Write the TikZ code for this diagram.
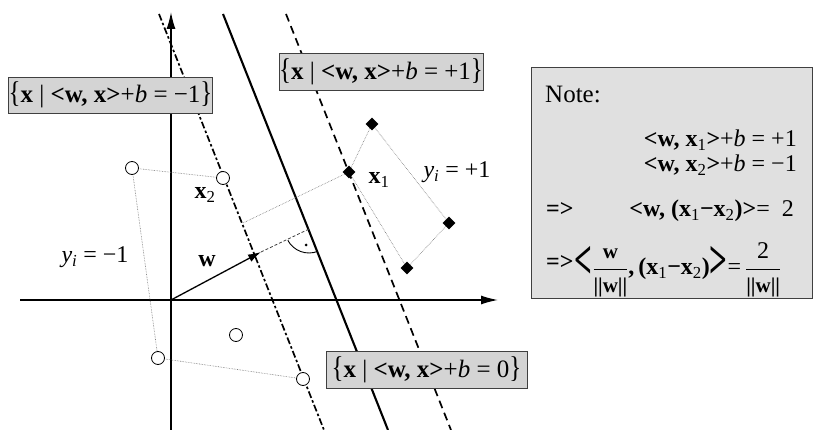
\documentclass[tikz,border=0pt]{standalone}
\usepackage{fontspec}
\usepackage{graphicx}
\setmainfont{Liberation Serif}
\usetikzlibrary{arrows.meta,shapes.geometric}
\newcommand{\bx}{\textbf{x}}
\newcommand{\bw}{\textbf{w}}
\newcommand{\ib}{\textit{b}}
\newcommand{\tb}[1]{\scalebox{1}[1.2]{#1}}
\newcommand{\bigang}[1]{\raisebox{-4pt}{\scalebox{1.3}[2.3]{\textbf{#1}}}}
\begin{document}
\begin{tikzpicture}[x=1pt,y=-1pt,
  axis/.style={line width=1.4pt, -{Latex[length=17pt,width=9pt]}},
  plane/.style={line width=2.1pt},
  marginl/.style={line width=1.7pt, dash pattern=on 7pt off 2.5pt on 2.5pt off 2.5pt},
  marginr/.style={line width=1.7pt, dash pattern=on 8pt off 5pt},
  hull/.style={black!55, line width=0.6pt, densely dotted},
  opt/.style={circle, draw, line width=0.8pt, fill=white, minimum size=13pt, inner sep=0pt},
  dpt/.style={diamond, fill=black, minimum size=13pt, inner sep=0pt},
  lbl/.style={draw=black!75, line width=0.8pt, fill=black!17, inner sep=0pt, font=\fontsize{25}{27}\selectfont},
  notebox/.style={draw=black!75, line width=0.8pt, fill=black!12, inner sep=0pt},
  txt/.style={inner sep=0pt, font=\fontsize{24}{26}\selectfont},
  ntxt/.style={inner sep=0pt, font=\fontsize{24}{26}\selectfont},
  ]
\useasboundingbox (0,0) rectangle (814,430);
\fill[white] (0,0) rectangle (814,430);
% hyperplanes
\coordinate (Lt) at (159,14);  \coordinate (Lb) at (324,430);
\coordinate (St) at (223,14);  \coordinate (Sb) at (388,430);
\coordinate (Rt) at (286,14);  \coordinate (Rb) at (451,430);
\draw[marginl] (Lt) -- (Lb);
\draw[plane] (St) -- (Sb);
\draw[marginr] (Rt) -- (Rb);
% axes
\coordinate (O) at (171,300);
\coordinate (yb) at (171,430); \coordinate (yt) at (171,12);
\coordinate (xl) at (20,300);  \coordinate (xr) at (498,300);
\draw[axis] (yb) -- (yt);
\draw[axis] (xl) -- (xr);
% hull connectors
\coordinate (proj) at (243,223);
\path (132,168) coordinate (p1) (223,178) coordinate (p2) (236,335) coordinate (p3)
      (158,358) coordinate (p4) (303,379) coordinate (p5)
      (372,124) coordinate (q1) (349,172) coordinate (q2) (449,223) coordinate (q3)
      (407,268) coordinate (q4);
\draw[hull] (p1) -- (p2);
\draw[hull] (p1) -- (p4);
\draw[hull] (p4) -- (p5);
\draw[hull] (q1) -- (q2);
\draw[hull] (q1) -- (q3);
\draw[hull] (q3) -- (q4);
\draw[hull] (q2) -- (q4);
\draw[hull] (q2) -- (proj);
% points
\node[opt] (c1) at (p1) {};
\node[opt] (c2) at (p2) {};
\node[opt] (c3) at (p3) {};
\node[opt] (c4) at (p4) {};
\node[opt] (c5) at (p5) {};
\node[dpt] (d1) at (q1) {};
\node[dpt] (d2) at (q2) {};
\node[dpt] (d3) at (q3) {};
\node[dpt] (d4) at (q4) {};
% w vector
\coordinate (wtip) at (261,252);
\coordinate (foot) at (309,229);
\draw[line width=1.3pt, -{Latex[length=13pt,width=8pt]}] (O) -- (wtip);
\draw[black!75, line width=0.8pt, dash pattern=on 3pt off 2pt] (wtip) -- (foot);
\draw[line width=0.9pt] (foot) ++(151.9:24) arc[start angle=151.9, end angle=68.3, radius=24];
\fill (306,245) circle (1.5pt);
% labels
\node[txt] (lx2) at (205,195) {\bx\textsubscript{2}};
\node[txt] (lx1) at (379,180) {\bx\textsubscript{1}};
\node[txt] (lw)  at (207,261) {\bw};
\node[txt] (lyp) at (457,172) {\textit{y}\textsubscript{\textit{i}} = +1};
\node[txt] (lym) at (95,257) {\textit{y}\textsubscript{\textit{i}} = −1};
% boxes
\node[lbl, minimum width=203pt, minimum height=36pt] (bm) at (110.5,95) {\tb{\{}\bx\ |\ \textbf{<w, x>}+\ib\ = −1\tb{\}}};
\node[lbl, minimum width=202pt, minimum height=37pt] (bp) at (381,71.5) {\tb{\{}\bx\ |\ \textbf{<w, x>}+\ib\ = +1\tb{\}}};
\node[lbl, minimum width=201pt, minimum height=37pt] (b0) at (426.5,369.5) {\tb{\{}\bx\ |\ \textbf{<w, x>}+\ib\ = 0\tb{\}}};
% note
\node[notebox, minimum width=281pt, minimum height=231pt] (note) at (671.5,182.5) {};
\node[ntxt, anchor=base west] (n0) at (545,103) {\fontsize{25}{27}\selectfont Note:};
\node[ntxt, anchor=base east] (n1) at (797,147) {\textbf{<w, x}\textsubscript{1}\textbf{>}+\ib\ = +1};
\node[ntxt, anchor=base east] (n2) at (797,172) {\textbf{<w, x}\textsubscript{2}\textbf{>}+\ib\ = −1};
\node[ntxt, anchor=base west] (n3a) at (546,217) {\textbf{=>}};
\node[ntxt, anchor=base east] (n3b) at (794,217) {\textbf{<w, (x}\textsubscript{1}\textbf{−x}\textsubscript{2}\textbf{)>}=\ \ 2};
\node[ntxt, anchor=base west] (n4) at (546,275) {\raisebox{5pt}{\textbf{=>}}\hspace{1pt}\bigang{<}$\displaystyle\frac{\mbox{\fontsize{21}{21}\selectfont\textbf{w}}}{\mbox{\fontsize{21}{21}\selectfont\textbf{||w||}}}$\textbf{,\,(x}\textsubscript{1}\textbf{−x}\textsubscript{2}\textbf{)}\bigang{>}=\hspace{4pt}$\displaystyle\frac{\mbox{\fontsize{24}{24}\selectfont 2}}{\mbox{\fontsize{21}{21}\selectfont\textbf{||w||}}}$};
\end{tikzpicture}
\end{document}
